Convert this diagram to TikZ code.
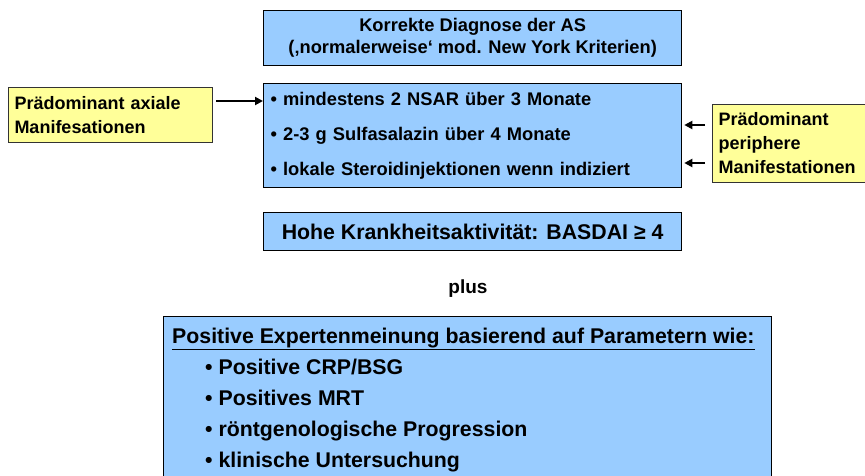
\documentclass[tikz,border=0pt]{standalone}
\usepackage{fontspec}
\setmainfont{Liberation Sans}
\usetikzlibrary{arrows.meta}
\definecolor{boxblue}{RGB}{153,204,255}
\definecolor{boxyellow}{RGB}{255,255,153}
\tikzset{
	bluebox/.style={draw=black, line width=1.3pt, fill=boxblue, anchor=north west, inner sep=0pt},
	yellowbox/.style={draw=black!80, line width=1pt, fill=boxyellow, anchor=north west, inner sep=0pt,
		align=left, font=\fontsize{18}{24}\selectfont\bfseries},
	pointer/.style={line width=2.2pt, -{Triangle[length=8pt,width=8pt]}}
}

\begin{document}
\begin{tikzpicture}[x=1pt,y=-1pt]
			%%%%% START %%%%%
			\useasboundingbox (0,0) rectangle (865,476);
			
			\node[bluebox, minimum width=418pt, minimum height=55pt, align=center,
				font=\fontsize{18.3}{22}\selectfont\bfseries] (diag) at (263,10)
				{Korrekte Diagnose der AS\\(‚normalerweise‘ mod. New York Kriterien)};
			
			\node[bluebox, minimum height=104pt, text width=404pt, inner xsep=7pt, align=left,
				font=\fontsize{18.3}{35}\selectfont\bfseries] (therapy) at (263,83)
				{• mindestens 2 NSAR über 3 Monate\\
				 • 2-3 g Sulfasalazin über 4 Monate\\
				 • lokale Steroidinjektionen wenn indiziert};
			
			\node[yellowbox, minimum height=55pt, text width=192pt, inner xsep=6pt] (axial) at (8,87)
				{Prädominant axiale\\Manifesationen};
			\node[yellowbox, minimum height=78pt, text width=142pt, inner xsep=6pt] (periph) at (712,104)
				{Prädominant\\periphere\\Manifestationen};
			
			\node[bluebox, minimum width=418pt, minimum height=38pt,
				font=\fontsize{21.3}{24}\selectfont\bfseries] (basdai) at (263,212)
				{Hohe Krankheitsaktivität: BASDAI ≥ 4};
			
			\node[font=\fontsize{19}{22}\selectfont\bfseries] (plus) at (468,289) {plus};
			
			\node[bluebox, minimum width=608pt, minimum height=175pt] (expert) at (163,316) {};
			\node[anchor=west, inner sep=0pt, font=\fontsize{21.3}{24}\selectfont\bfseries] (experthead) at (172,339)
				{\underline{Positive Expertenmeinung basierend auf Parametern wie:}};
			\node[anchor=north west, inner sep=0pt, align=left,
				font=\fontsize{21.3}{31}\selectfont\bfseries] (expertlist) at (205,359)
				{• Positive CRP/BSG\\
				 • Positives MRT\\
				 • röntgenologische Progression\\
				 • klinische Untersuchung};
			
			\coordinate (axout) at (216,101);
			\coordinate (pin1) at (705,125);
			\coordinate (pin2) at (705,163);
			\draw[pointer] (axout) -- (axout -| therapy.west);
			\draw[pointer] (pin1) -- ([xshift=2pt]pin1 -| therapy.east);
			\draw[pointer] (pin2) -- ([xshift=2pt]pin2 -| therapy.east);
			%%%%% END %%%%%
\end{tikzpicture}
\end{document}
